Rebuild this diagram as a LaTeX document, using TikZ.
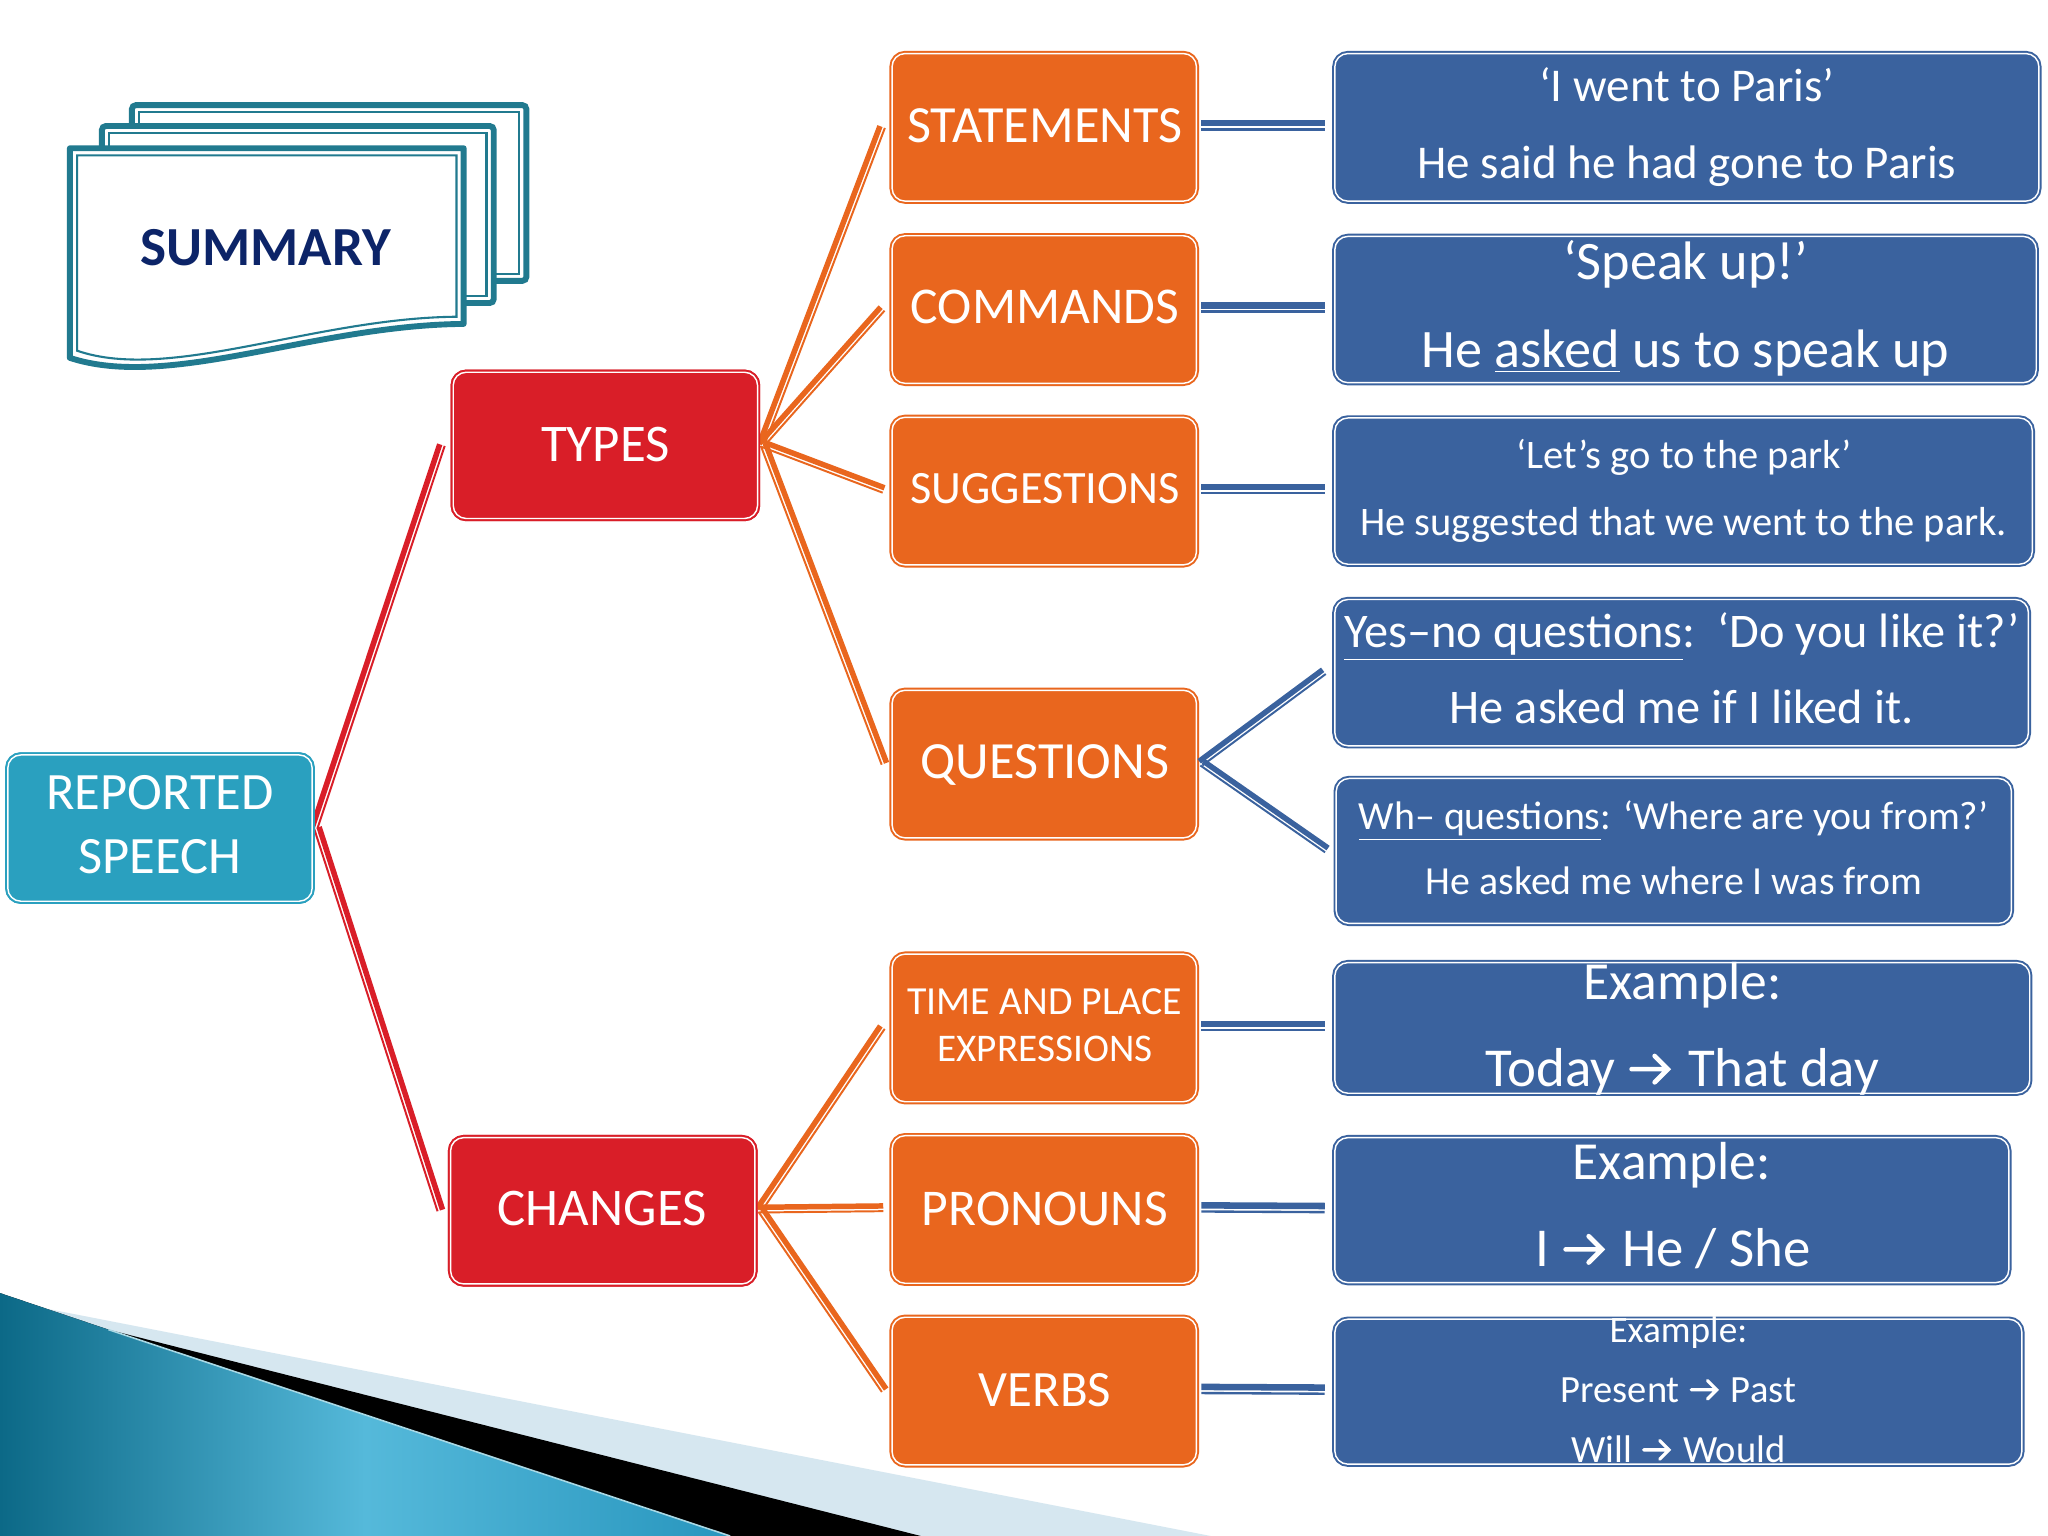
\documentclass[tikz,border=0pt]{standalone}
\usepackage{fontspec}
\setmainfont{Carlito}
\usetikzlibrary{calc}
\definecolor{cteal}{RGB}{42,160,191}
\definecolor{cred}{RGB}{217,30,40}
\definecolor{corange}{RGB}{233,102,30}
\definecolor{cblue}{RGB}{58,98,158}
\definecolor{ccard}{RGB}{33,122,143}
\definecolor{cnavy}{RGB}{12,36,104}
\definecolor{clight}{RGB}{214,231,240}
\definecolor{ctealdark}{RGB}{12,105,135}
\definecolor{ctealbright}{RGB}{85,185,218}
\definecolor{ctealmid}{RGB}{40,150,190}
\newcommand{\myfs}[1]{\fontsize{#1}{#1}\selectfont}
% chevron arrow drawn inline, sized to the current font
\newcommand{\arr}{\kern0.03em\tikz[baseline=0pt, x=1em, y=1em]{\draw[white, line width=0.085em, line cap=round, line join=miter]
  (0.02,0.32) -- (0.66,0.32) (0.44,0.08) -- (0.68,0.32) -- (0.44,0.56);}\kern0.1em}
% double line: thick on the left of the direction, thin on the right
\newcommand{\dline}[3]{%
  \draw[#1, line width=2.1pt] ($(#2)!1.35pt!90:(#3)$) -- ($(#3)!1.35pt!-90:(#2)$);
  \draw[#1, line width=0.75pt] ($(#2)!0.65pt!-90:(#3)$) -- ($(#3)!0.65pt!90:(#2)$);
}
\newcommand{\bline}[3]{%
  \draw[#1, line width=2.5pt] ($(#2)!1.575pt!90:(#3)$) -- ($(#3)!1.575pt!-90:(#2)$);
  \draw[#1, line width=0.9pt] ($(#2)!0.775pt!-90:(#3)$) -- ($(#3)!0.775pt!90:(#2)$);
}
\tikzset{
  box/.style={draw=#1, fill=#1, double=white, double distance=0.55pt, line width=0.75pt,
    rounded corners=5pt, inner sep=0pt},
  obox/.style={box=corange, minimum width=116.5pt, minimum height=56.5pt},
  rbox/.style={box=cred, minimum width=116.5pt, minimum height=56pt},
  txt/.style={text=white, inner sep=0pt, anchor=base},
}
\begin{document}
\begin{tikzpicture}[x=0.5pt,y=-0.5pt]
\useasboundingbox (0,0) rectangle (1568,1176);
\fill[white] (0,0) rectangle (1568,1176);

% bottom-left decoration
\fill[clight] (0,995) -- (927,1176) -- (0,1176) -- cycle;
\fill[black] (0,990) -- (83,1018) -- (705,1176) -- (0,1176) -- cycle;
\shade[left color=ctealdark, right color=ctealmid, middle color=ctealbright]
  (0,990) -- (83,1018) -- (559,1176) -- (0,1176) -- cycle;
\draw[white!60!cteal, line width=0.6pt] (83,1018) -- (559,1176);

% summary cards
\draw[ccard, line width=2.25pt, fill=white, rounded corners=1.5pt] (101,80.5) rectangle (403,215);
\draw[ccard, line width=0.8pt] (106.5,86) rectangle (397.5,209.5);
\draw[ccard, line width=2.25pt, fill=white, rounded corners=1.5pt] (78,96.5) rectangle (378,232);
\draw[ccard, line width=0.8pt] (83.5,102) rectangle (372.5,226.5);
\draw[ccard, line width=2.25pt, fill=white, line join=round]
  (53.5,113.5) -- (355,113.5) -- (355,248) .. controls (240,249) and (130,299) .. (53.5,274) -- cycle;
\draw[ccard, line width=0.8pt]
  (59,119) -- (349.5,119) -- (349.5,242.5) .. controls (240,243.5) and (130,293) .. (59,268.5) -- cycle;
\node[font=\bfseries\myfs{21.1pt}, text=cnavy, inner sep=0pt, anchor=base] (sumt) at (203.5,203.6) {SUMMARY};

% main boxes
\node[box=cteal, minimum width=116.5pt, minimum height=56pt] (RS) at (122.5,634) {};
\node[rbox] (TYP) at (463.5,341) {};
\node[rbox] (CHG) at (461.5,927) {};
\node[obox] (STA) at (799.5,97.5) {};
\node[obox] (COM) at (799.5,237) {};
\node[obox] (SUG) at (799.5,376) {};
\node[obox] (QUE) at (799.5,585) {};
\node[obox] (TIM) at (799.5,787) {};
\node[obox] (PRO) at (799.5,926) {};
\node[obox] (VER) at (799.5,1065) {};
\node[box=cblue, minimum width=269.5pt, minimum height=56.5pt] (B1) at (1291.5,97.5) {};
\node[box=cblue, minimum width=268.5pt, minimum height=56pt] (B2) at (1290.5,237) {};
\node[box=cblue, minimum width=267pt, minimum height=56pt] (B3) at (1289,376) {};
\node[box=cblue, minimum width=265.5pt, minimum height=56pt] (B4) at (1287.5,515) {};
\node[box=cblue, minimum width=258.5pt, minimum height=55.5pt] (B5) at (1281.5,651.5) {};
\node[box=cblue, minimum width=266pt, minimum height=50pt] (B6) at (1288,787) {};
\node[box=cblue, minimum width=258pt, minimum height=55.5pt] (B7) at (1280,926.5) {};
\node[box=cblue, minimum width=263pt, minimum height=55.5pt] (B8) at (1285,1065.5) {};

% connector end points
\coordinate (rsE) at ([xshift=1pt]RS.east);
\coordinate (typW) at ([xshift=-3.5pt]TYP.west);
\coordinate (chgW) at ([xshift=-4pt]CHG.west);
\coordinate (typE) at ([xshift=1.5pt]TYP.east);
\coordinate (chgE) at ([xshift=1.5pt]CHG.east);
\foreach \n in {STA,COM,SUG,QUE,TIM,PRO,VER}{
  \coordinate (\n W) at ([xshift=-3pt]\n.west);
  \coordinate (\n E) at ([xshift=1.5pt]\n.east);
}
\foreach \n in {B1,B2,B3,B4,B5,B6,B7,B8}{
  \coordinate (\n W) at ([xshift=-3.5pt]\n.west);
}

% connectors
\dline{cred}{rsE}{typW}
\dline{cred}{rsE}{chgW}
\dline{corange}{typE}{STAW}
\dline{corange}{typE}{COMW}
\dline{corange}{typE}{SUGW}
\dline{corange}{typE}{QUEW}
\dline{corange}{chgE}{TIMW}
\dline{corange}{chgE}{PROW}
\dline{corange}{chgE}{VERW}
\bline{cblue}{STAE}{B1W}
\bline{cblue}{COME}{B2W}
\bline{cblue}{SUGE}{B3W}
\dline{cblue}{QUEE}{B4W}
\dline{cblue}{QUEE}{B5W}
\bline{cblue}{TIME}{B6W}
\bline{cblue}{PROE}{B7W}
\bline{cblue}{VERE}{B8W}

% redraw boxes on top of connector ends
\node[box=cteal, minimum width=116.5pt, minimum height=56pt] (RS2) at (RS) {};
\node[rbox] (TYP2) at (TYP) {};
\node[rbox] (CHG2) at (CHG) {};

% labels
\node[txt, font=\myfs{20.1pt}] (RSt1) at (122.5,620) {REPORTED};
\node[txt, font=\myfs{20.1pt}] (RSt2) at (122.5,669) {SPEECH};
\node[txt, font=\myfs{20.25pt}] (TYPt) at (463.5,353) {TYPES};
\node[txt, font=\myfs{20.25pt}] (CHGt) at (461,938) {CHANGES};
\node[txt, font=\myfs{20pt}] (STAt) at (800,109) {STATEMENTS};
\node[txt, font=\myfs{19.75pt}] (COMt) at (800,248) {COMMANDS};
\node[txt, font=\myfs{17.75pt}] (SUGt) at (800,385.5) {SUGGESTIONS};
\node[txt, font=\myfs{20pt}] (QUEt) at (800,596) {QUESTIONS};
\node[txt, font=\myfs{15.25pt}] (TIMt1) at (800,777) {TIME AND PLACE};
\node[txt, font=\myfs{15pt}] (TIMt2) at (800,813) {EXPRESSIONS};
\node[txt, font=\myfs{19.75pt}] (PROt) at (800,938) {PRONOUNS};
\node[txt, font=\myfs{19.5pt}] (VERt) at (800,1077) {VERBS};

\node[txt, font=\myfs{18pt}] (B1t1) at (1291.5,77.5) {‘I went to Paris’};
\node[txt, font=\myfs{18pt}] (B1t2) at (1291.5,137) {He said he had gone to Paris};
\node[txt, font=\myfs{20.75pt}] (B2t1) at (1290.5,214) {‘Speak up!’};
\node[txt, font=\myfs{20.75pt}] (B2t2) at (1290.5,281.5) {He \underline{asked} us to speak up};
\node[txt, font=\myfs{15.5pt}] (B3t1) at (1289,359) {‘Let’s go to the park’};
\node[txt, font=\myfs{15.5pt}] (B3t2) at (1289,410) {He suggested that we went to the park.};
\node[txt, font=\myfs{18.5pt}] (B4t1) at (1287.5,496) {\underline{Yes–no questions}:\ \ ‘Do you like it?’};
\node[txt, font=\myfs{18.5pt}] (B4t2) at (1287.5,554) {He asked me if I liked it.};
\node[txt, font=\myfs{15.25pt}] (B5t1) at (1281.5,635) {\underline{Wh– questions}: ‘Where are you from?’};
\node[txt, font=\myfs{15.25pt}] (B5t2) at (1281.5,685) {He asked me where I was from};
\node[txt, font=\myfs{20.5pt}] (B6t1) at (1288,765) {Example:};
\node[txt, font=\myfs{21pt}] (B6t2) at (1288,832) {Today \arr{} That day};
\node[txt, font=\myfs{20.5pt}] (B7t1) at (1280,903) {Example:};
\node[txt, font=\myfs{21pt}] (B7t2) at (1281,970) {I \arr{} He / She};
\node[txt, font=\myfs{14.25pt}] (B8t1) at (1285,1028) {Example:};
\node[txt, font=\myfs{14.75pt}] (B8t2) at (1285,1073.5) {Present \arr{} Past};
\node[txt, font=\myfs{14.75pt}] (B8t3) at (1285,1119.5) {Will \arr{} Would};
\end{tikzpicture}
\end{document}
